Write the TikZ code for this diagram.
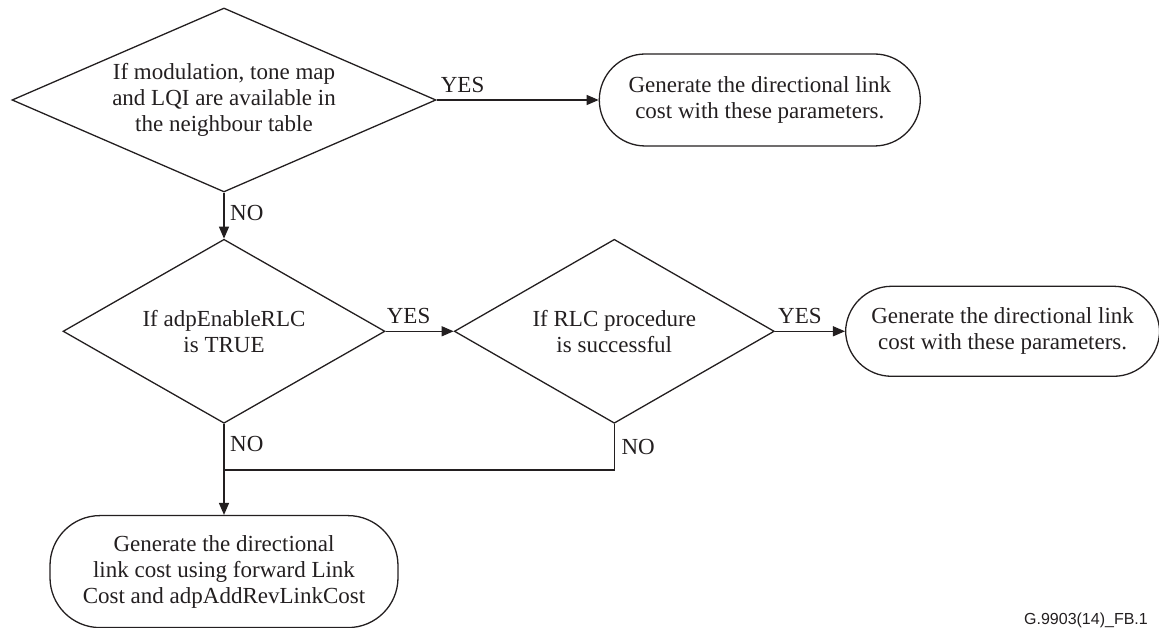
\documentclass[tikz,border=0pt]{standalone}
\usepackage{fontspec}
\setmainfont{Liberation Serif}
\newfontfamily\figsans{Liberation Sans}
\usepackage{xcolor}
\usepackage{tikz}
\usetikzlibrary{shapes.geometric,arrows.meta,positioning}

\definecolor{ink}{RGB}{35,31,32}

\begin{document}
\begin{tikzpicture}[
    x=1pt, y=1pt,
    font=\fontsize{23pt}{26pt}\selectfont,
    every node/.style={text=ink},
    decision/.style={diamond, draw=ink, line width=1.3pt, inner sep=0pt, align=center},
    terminal/.style={rectangle, draw=ink, line width=1.3pt, rounded corners=46pt, minimum height=92pt, align=center},
    arrow/.style={-{Triangle[length=12pt,width=10pt]}, draw=ink, line width=1.3pt},
    link/.style={draw=ink, line width=1.3pt},
    lbl/.style={inner sep=0pt, anchor=base west}
]
    \useasboundingbox (0,0) rectangle (1159,628);

    \node[decision, minimum width=424pt, minimum height=184pt, shape aspect=2.3] (avail) at (224,528)
        {If modulation, tone map\\and LQI are available in\\the neighbour table};
    \node[terminal, minimum width=321pt, right=162pt of avail] (costA)
        {Generate the directional link\\cost with these parameters.};
    \node[decision, minimum width=322pt, minimum height=184pt, shape aspect=1.75, below=46pt of avail] (rlc)
        {If adpEnableRLC\\is TRUE};
    \node[decision, minimum width=320pt, minimum height=184pt, shape aspect=1.75, right=68pt of rlc] (proc)
        {If RLC procedure\\is successful};
    \node[terminal, minimum width=314pt, minimum height=90pt, right=70pt of proc] (costB)
        {Generate the directional link\\cost with these parameters.};
    \node[terminal, minimum width=348pt, minimum height=112pt, rounded corners=50pt, below=91pt of rlc] (rev)
        {Generate the directional\\link cost using forward Link\\Cost and adpAddRevLinkCost};
    \coordinate[below=46pt of proc.south] (merge);

    \draw[arrow] (avail) -- (costA);
    \draw[arrow] (avail) -- (rlc);
    \draw[arrow] (rlc) -- (proc);
    \draw[arrow] (proc) -- (costB);
    \draw[arrow] (rlc) -- (rev);
    \draw[link] (proc.south) -- (merge) -- (merge -| rlc.south);

    % YES / NO labels
    \node[lbl] at ([xshift=4pt,yshift=7pt]avail.east) {YES};
    \node[lbl] at ([xshift=1pt,yshift=8pt]rlc.east) {YES};
    \node[lbl] at ([xshift=3pt,yshift=8pt]proc.east) {YES};
    \node[lbl] at ([xshift=6pt,yshift=-28pt]avail.south) {NO};
    \node[lbl] at ([xshift=6pt,yshift=-28pt]rlc.south) {NO};
    \node[lbl] at ([xshift=7pt,yshift=-31pt]proc.south) {NO};

    \node[inner sep=0pt, anchor=base east, font=\figsans\fontsize{16pt}{18pt}\selectfont] (tag) at (1148,3)
        {G.9903(14)\_FB.1};
\end{tikzpicture}
\end{document}
